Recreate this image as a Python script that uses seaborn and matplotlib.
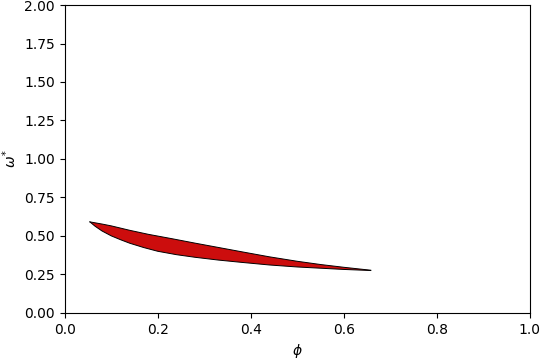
import matplotlib
matplotlib.use("Agg")
import matplotlib.pyplot as plt
import seaborn as sns
import pandas as pd

# upper and lower boundary of the region
upper_phi = [0.054, 0.08, 0.10, 0.14, 0.18, 0.23, 0.28, 0.33, 0.38, 0.44, 0.50, 0.55, 0.60, 0.658]
upper_omega = [0.591, 0.577, 0.565, 0.536, 0.510, 0.482, 0.453, 0.425, 0.397, 0.364, 0.335, 0.314, 0.296, 0.277]
lower_phi = [0.054, 0.065, 0.08, 0.10, 0.12, 0.14, 0.17, 0.20, 0.24, 0.28, 0.33, 0.38, 0.44, 0.50, 0.55, 0.60, 0.658]
lower_omega = [0.591, 0.563, 0.532, 0.500, 0.475, 0.452, 0.424, 0.400, 0.378, 0.361, 0.343, 0.328, 0.311, 0.298, 0.290, 0.282, 0.275]

upper = pd.DataFrame({"phi": upper_phi, "omega": upper_omega})
lower = pd.DataFrame({"phi": lower_phi, "omega": lower_omega})

fig, ax = plt.subplots(figsize=(5.4, 3.6), dpi=100)

poly_x = upper_phi + lower_phi[::-1]
poly_y = upper_omega + lower_omega[::-1]
ax.fill(poly_x, poly_y, color="#cc0d0d", linewidth=0)

sns.lineplot(data=upper, x="phi", y="omega", color="black", lw=0.7, sort=False, ax=ax)
sns.lineplot(data=lower, x="phi", y="omega", color="black", lw=0.7, sort=False, ax=ax)

ax.set_xlim(0, 1)
ax.set_ylim(0, 2)
ax.set_xlabel(r"$\phi$")
ax.set_ylabel(r"$\omega^{*}$")

fig.subplots_adjust(left=0.12, right=0.981, top=0.986, bottom=0.131)
plt.savefig("out.png")
